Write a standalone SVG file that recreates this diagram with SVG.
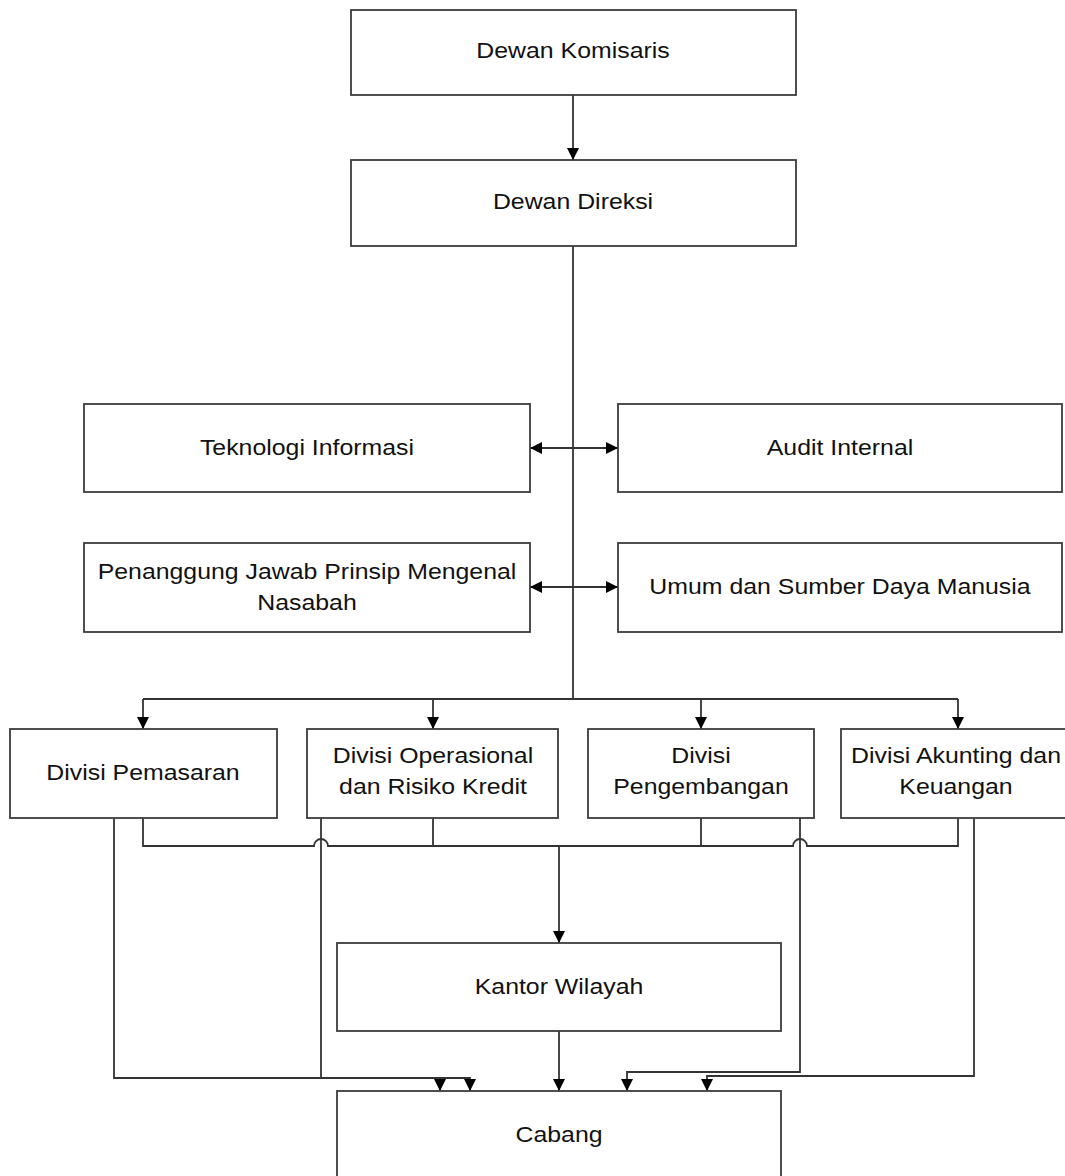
<svg xmlns="http://www.w3.org/2000/svg" width="1065" height="1176" viewBox="0 0 1065 1176">
<defs>
<style>
.box{fill:#ffffff;stroke:#3c3c3c;stroke-width:1.8}
.ln{fill:none;stroke:#333333;stroke-width:1.8}
.t{font-family:"Liberation Sans",Arial,sans-serif;font-size:22px;fill:#111111;text-anchor:middle}
</style>
<marker id="ah" viewBox="0 0 10 10" refX="10" refY="5" markerWidth="12" markerHeight="12" markerUnits="userSpaceOnUse" orient="auto-start-reverse">
<path d="M0,0 L10,5 L0,10 Z" fill="#000000"/>
</marker>
</defs>
<rect width="1065" height="1176" fill="#ffffff"/>
<g id="connectors">
<path class="ln" d="M573,95 V160" marker-end="url(#ah)"/>
<path class="ln" d="M573,246 V699"/>
<path class="ln" d="M530,448 H618" marker-start="url(#ah)" marker-end="url(#ah)"/>
<path class="ln" d="M530,587 H618" marker-start="url(#ah)" marker-end="url(#ah)"/>
<path class="ln" d="M143,699 H958"/>
<path class="ln" d="M143,699 V729" marker-end="url(#ah)"/>
<path class="ln" d="M433,699 V729" marker-end="url(#ah)"/>
<path class="ln" d="M701,699 V729" marker-end="url(#ah)"/>
<path class="ln" d="M958,699 V729" marker-end="url(#ah)"/>
<path class="ln" d="M143,818 V846 H314 a7,7 0 0 1 14,0 H793 a7,7 0 0 1 14,0 H958 V818"/>
<path class="ln" d="M433,818 V846"/>
<path class="ln" d="M701,818 V846"/>
<path class="ln" d="M559,846 V943" marker-end="url(#ah)"/>
<path class="ln" d="M114,818 V1078 H470 V1091" marker-end="url(#ah)"/>
<path class="ln" d="M321,818 V1078 H440 V1091" marker-end="url(#ah)"/>
<path class="ln" d="M559,1031 V1091" marker-end="url(#ah)"/>
<path class="ln" d="M800,818 V1072 H627 V1091" marker-end="url(#ah)"/>
<path class="ln" d="M974,818 V1076 H707 V1091" marker-end="url(#ah)"/>
</g>
<g id="dewan-komisaris">
<rect class="box" x="351" y="10" width="445" height="85"/>
<text class="t" transform="translate(573,58) scale(1.13,1)">Dewan Komisaris</text>
</g>
<g id="dewan-direksi">
<rect class="box" x="351" y="160" width="445" height="86"/>
<text class="t" transform="translate(573,209) scale(1.13,1)">Dewan Direksi</text>
</g>
<g id="teknologi-informasi">
<rect class="box" x="84" y="404" width="446" height="88"/>
<text class="t" transform="translate(307,455) scale(1.13,1)">Teknologi Informasi</text>
</g>
<g id="audit-internal">
<rect class="box" x="618" y="404" width="444" height="88"/>
<text class="t" transform="translate(840,455) scale(1.13,1)">Audit Internal</text>
</g>
<g id="penanggung-jawab">
<rect class="box" x="84" y="543" width="446" height="89"/>
<text class="t" transform="translate(307,579) scale(1.13,1)"><tspan x="0" y="0">Penanggung Jawab Prinsip Mengenal</tspan><tspan x="0" y="31">Nasabah</tspan></text>
</g>
<g id="umum-sdm">
<rect class="box" x="618" y="543" width="444" height="89"/>
<text class="t" transform="translate(840,594) scale(1.13,1)">Umum dan Sumber Daya Manusia</text>
</g>
<g id="divisi-pemasaran">
<rect class="box" x="10" y="729" width="267" height="89"/>
<text class="t" transform="translate(143,780) scale(1.13,1)">Divisi Pemasaran</text>
</g>
<g id="divisi-operasional">
<rect class="box" x="307" y="729" width="251" height="89"/>
<text class="t" transform="translate(433,763) scale(1.13,1)"><tspan x="0" y="0">Divisi Operasional</tspan><tspan x="0" y="31">dan Risiko Kredit</tspan></text>
</g>
<g id="divisi-pengembangan">
<rect class="box" x="588" y="729" width="226" height="89"/>
<text class="t" transform="translate(701,763) scale(1.13,1)"><tspan x="0" y="0">Divisi</tspan><tspan x="0" y="31">Pengembangan</tspan></text>
</g>
<g id="divisi-akunting">
<rect class="box" x="841" y="729" width="240" height="89"/>
<text class="t" transform="translate(956,763) scale(1.13,1)"><tspan x="0" y="0">Divisi Akunting dan</tspan><tspan x="0" y="31">Keuangan</tspan></text>
</g>
<g id="kantor-wilayah">
<rect class="box" x="337" y="943" width="444" height="88"/>
<text class="t" transform="translate(559,994) scale(1.13,1)">Kantor Wilayah</text>
</g>
<g id="cabang">
<rect class="box" x="337" y="1091" width="444" height="100"/>
<text class="t" transform="translate(559,1142) scale(1.13,1)">Cabang</text>
</g>
</svg>
